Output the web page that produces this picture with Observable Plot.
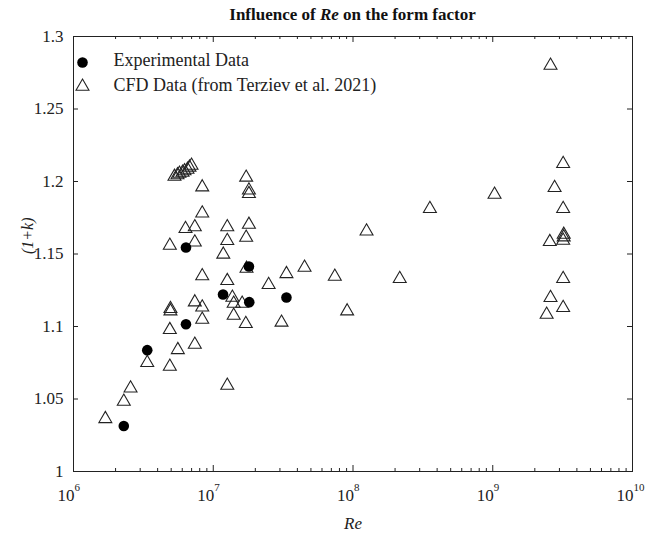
<!DOCTYPE html>
<html><head><meta charset="utf-8">
<script src="https://cdn.jsdelivr.net/npm/d3@7"></script>
<script src="https://cdn.jsdelivr.net/npm/@observablehq/plot@0.6"></script>
<style>
body{margin:0;background:#fff;font-family:"Liberation Serif",serif;}
#title{box-sizing:border-box;width:647px;height:28px;padding:5px 15px 0 73px;text-align:center;font-weight:bold;font-size:17px;line-height:20px;color:#111;}
</style></head><body>
<div id="title">Influence of <i>Re</i> on the form factor</div>
<div id="chart"></div>
<script>
// Experimental data
const expRe = [2.29e6, 3.37e6, 6.38e6, 6.38e6, 1.175e7, 1.80e7, 1.81e7, 3.34e7];
const expK  = [1.0314, 1.0837, 1.1016, 1.1545, 1.1221, 1.1414, 1.1168, 1.1200];
// CFD data (Terziev et al. 2021)
const cfdRe = [1.69e6, 2.29e6, 2.56e6, 3.37e6, 4.89e6, 5.58e6, 7.38e6, 4.89e6, 4.94e6, 4.94e6,
  4.89e6, 5.28e6, 5.55e6, 5.73e6, 6.03e6, 6.23e6, 6.54e6, 6.76e6, 6.99e6, 8.34e6,
  8.34e6, 6.33e6, 7.38e6, 7.38e6, 7.38e6, 8.34e6, 8.34e6, 8.34e6, 1.18e7, 1.26e7,
  1.26e7, 1.26e7, 1.37e7, 1.40e7, 1.61e7, 1.40e7, 1.71e7, 1.72e7, 1.80e7, 1.80e7,
  1.80e7, 1.72e7, 1.73e7, 2.49e7, 3.34e7, 4.50e7, 3.08e7, 7.41e7, 9.08e7, 1.25e8,
  2.16e8, 3.55e8, 1.03e9, 2.59e9, 3.19e9, 2.77e9, 3.19e9, 3.22e9, 3.22e9, 3.19e9,
  2.56e9, 3.19e9, 2.59e9, 3.19e9, 2.43e9, 1.26e7];
const cfdK = [1.0363, 1.0483, 1.0574, 1.0750, 1.0724, 1.0839, 1.0876, 1.0977, 1.1122, 1.1106,
  1.1559, 1.2034, 1.2045, 1.2055, 1.2062, 1.2072, 1.2083, 1.2097, 1.2110, 1.1961,
  1.1781, 1.1674, 1.1686, 1.1581, 1.1168, 1.1133, 1.1048, 1.1348, 1.1497, 1.1686,
  1.1591, 1.1315, 1.1200, 1.1159, 1.1159, 1.1076, 1.1019, 1.2028, 1.1940, 1.1915,
  1.1703, 1.1614, 1.1400, 1.1288, 1.1363, 1.1407, 1.1028, 1.1345, 1.1106, 1.1657,
  1.1329, 1.1812, 1.1910, 1.2800, 1.2122, 1.1957, 1.1812, 1.1634, 1.1616, 1.1593,
  1.1584, 1.1329, 1.1198, 1.1129, 1.1083, 1.0593];
// Axis ticks
const xMajor = [1e6, 1e7, 1e8, 1e9, 1e10];
const xExp = ["6", "7", "8", "9", "10"];
const xMinor = [1e6, 1e7, 1e8, 1e9].flatMap(d => [2,3,4,5,6,7,8,9].map(m => m * d));
const yTicks = [1, 1.05, 1.1, 1.15, 1.2, 1.25, 1.3];
const yLabels = ["1", "1.05", "1.1", "1.15", "1.2", "1.25", "1.3"];
const legendLabels = ["Experimental Data", "CFD Data (from Terziev et al. 2021)"];

const W = 647, H = 505, ML = 73, MR = 15, MT = 8, MB = 62;
const iw = W - ML - MR, ih = H - MT - MB;
const exp = expRe.map((r, i) => ({re: r, k: expK[i]}));
const cfd = cfdRe.map((r, i) => ({re: r, k: cfdK[i]}));
const ink = "#222";
const ff = "Liberation Serif";

const chart = Plot.plot({
  width: W, height: H, marginLeft: ML, marginRight: MR, marginTop: MT, marginBottom: MB,
  style: {fontFamily: "Liberation Serif, serif", background: "white", color: ink, overflow: "visible"},
  x: {type: "log", domain: [1e6, 1e10], axis: null},
  y: {domain: [1, 1.3], axis: null},
  marks: [
    Plot.frame({stroke: ink, strokeWidth: 1}),
    Plot.ruleX(xMajor, {x: d => d, insetTop: ih - 6, stroke: ink}),
    Plot.ruleX(xMajor, {x: d => d, insetBottom: ih - 6, stroke: ink}),
    Plot.ruleX(xMinor, {x: d => d, insetTop: ih - 3, stroke: ink}),
    Plot.ruleX(xMinor, {x: d => d, insetBottom: ih - 3, stroke: ink}),
    Plot.ruleY(yTicks, {y: d => d, insetRight: iw - 5, stroke: ink}),
    Plot.ruleY(yTicks, {y: d => d, insetLeft: iw - 5, stroke: ink}),
    Plot.text(yTicks, {y: d => d, text: (d, i) => yLabels[i], frameAnchor: "left", dx: -10, textAnchor: "end", fontSize: 17, fontFamily: ff, fill: ink}),
    Plot.text(xMajor, {x: d => d, text: () => "10", frameAnchor: "bottom", dy: 24, dx: 1, textAnchor: "end", lineAnchor: "middle", fontSize: 17, fontFamily: ff, fill: ink}),
    Plot.text(xMajor, {x: d => d, text: (d, i) => xExp[i], frameAnchor: "bottom", dy: 16, dx: 1, textAnchor: "start", lineAnchor: "middle", fontSize: 11, fontFamily: ff, fill: ink}),
    Plot.text(["Re"], {frameAnchor: "bottom", dy: 52, lineAnchor: "middle", fontSize: 17, fontStyle: "italic", fontFamily: ff, fill: ink}),
    Plot.text(["(1+k)"], {frameAnchor: "left", dx: -46, rotate: -90, fontSize: 16, fontStyle: "italic", fontFamily: ff, fill: ink}),
    Plot.dot(cfd, {x: "re", y: "k", symbol: "triangle", r: 4.8, stroke: ink, strokeWidth: 1.1, fill: "none"}),
    Plot.dot(exp, {x: "re", y: "k", symbol: "circle", r: 5.3, fill: "black", stroke: "none"}),
    Plot.dot([0], {frameAnchor: "top-left", dx: 9, dy: 26, r: 5.3, fill: "black", stroke: "none"}),
    Plot.dot([0], {frameAnchor: "top-left", dx: 9, dy: 50, r: 4.8, symbol: "triangle", stroke: ink, strokeWidth: 1.1, fill: "none"}),
    Plot.text([legendLabels[0]], {frameAnchor: "top-left", dx: 40, dy: 24, textAnchor: "start", lineAnchor: "middle", fontSize: 18, fontFamily: ff, fill: ink}),
    Plot.text([legendLabels[1]], {frameAnchor: "top-left", dx: 40, dy: 49, textAnchor: "start", lineAnchor: "middle", fontSize: 18, fontFamily: ff, fill: ink})
  ]
});
document.getElementById("chart").appendChild(chart);
</script>
</body></html>
